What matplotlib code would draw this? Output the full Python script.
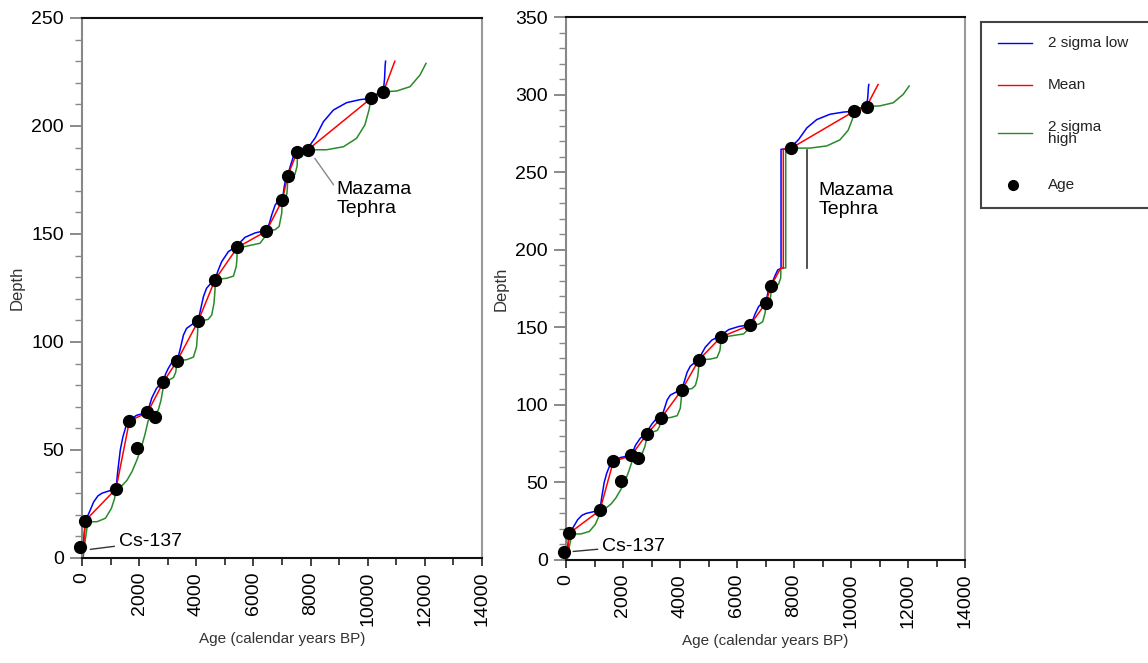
import matplotlib
matplotlib.use("Agg")
import matplotlib.pyplot as plt
from matplotlib.ticker import MultipleLocator

plt.rcParams['font.family'] = ['Liberation Sans', 'DejaVu Sans']

# ---- dated levels (age, depth) ----
# below the Mazama tephra
age_below = [-60, 117, 1190, 1640, 1940, 2280, 2540, 2850, 3330, 4060, 4660,
             5440, 6450, 7010, 7195, 7525]
depth_below = [5.2, 17.3, 32.0, 63.5, 51.0, 67.5, 65.5, 81.5, 91.3, 109.5,
               128.9, 143.8, 151.3, 165.6, 176.8, 187.8]
# from the tephra upwards
age_above = [7895, 10115, 10545]
depth_above = [188.9, 212.8, 215.8]

# ---- age model curves ----
mean_age_below = [0, 60, 117, 1190, 1660, 2290, 2850, 3330, 4060, 4660, 5440,
                  6450, 7010, 7195, 7525]
mean_depth_below = [0, 6, 17.3, 32, 63.5, 67.3, 81.5, 91.3, 109.5, 128.9,
                    143.8, 151.3, 165.6, 176.8, 187.8]
mean_age_above = [7895, 10115, 10545, 10950]
mean_depth_above = [188.9, 212.8, 215.8, 230]

low_age_below = [10, 40, 117, 250, 410, 560, 700, 1050, 1190, 1250, 1340, 1430,
                 1560, 1660, 1900, 2100, 2290, 2440, 2610, 2790, 2850, 2920,
                 3020, 3140, 3330, 3430, 3550, 3660, 3900, 4060, 4150, 4250,
                 4360, 4540, 4660, 4760, 4890, 5120, 5300, 5440, 5560, 5710,
                 6060, 6290, 6450, 6560, 6640, 6760, 6870, 7010, 7080, 7140,
                 7195, 7260, 7340, 7430, 7525]
low_depth_below = [0, 6, 17.3, 21, 26, 28.8, 30, 31.5, 32, 40, 50, 56,
                   62, 63.5, 66, 66.8, 67.3, 74, 78.6, 80.9, 81.5, 85,
                   87.8, 90.4, 91.3, 96.3, 103.2, 106.3, 108.6, 109.5, 115, 121,
                   124.9, 127.6, 128.9, 133, 137.2, 141.8, 143.4, 143.8, 146.5, 148.5,
                   150.5, 151.2, 151.3, 155, 158.8, 163.4, 165.3, 165.6, 172, 176,
                   176.8, 180, 183.5, 187, 187.8]
low_age_above = [7895, 8000, 8160, 8450, 8800, 9260, 9730, 10115, 10310, 10545,
                 10590, 10610, 10625]
low_depth_above = [188.9, 191.5, 194.5, 202, 207.4, 210.8, 212.2, 212.8, 214.8,
                   215.8, 222, 228, 230]

high_age_below = [40, 100, 175, 233, 525, 820, 1030, 1140, 1190, 1400, 1575,
                  1750, 1925, 2060, 2200, 2322, 2500, 2670, 2765, 2847, 2850,
                  2950, 3020, 3200, 3280, 3330, 3450, 3660, 3900, 4010, 4045,
                  4060, 4250, 4420, 4540, 4620, 4655, 4660, 4850, 5060, 5300,
                  5400, 5420, 5440, 5700, 5940, 6230, 6400, 6450, 6600, 6760,
                  6900, 6990, 7010, 7100, 7170, 7190, 7195, 7300, 7450, 7530,
                  7540, 7525]
high_depth_below = [0, 7, 14, 16.8, 16.8, 18.4, 23, 27.6, 32, 33.5, 36,
                    40, 45.5, 50.5, 57, 63.9, 65.5, 68.5, 73, 79.3, 81.5,
                    82, 82.3, 83.5, 86, 91.3, 91.5, 91.8, 93, 97.8, 104,
                    109.5, 110, 110.5, 112.5, 118, 124, 128.9, 129.2, 129.5, 130.5,
                    135, 138, 143.8, 144.2, 144.9, 145.7, 148.7, 151.3, 151.6, 152,
                    153.5, 159.6, 165.6, 166.2, 168.5, 172, 176.8, 177, 177.5, 181.5,
                    186, 187.8]
high_age_above = [7895, 8250, 8560, 9150, 9610, 9900, 10045, 10115, 10300,
                  10545, 11010, 11480, 11830, 12040]
high_depth_above = [188.9, 189, 189, 190.4, 194.3, 200.5, 207.4, 212.8, 214.5,
                    215.8, 216.2, 218.2, 223.6, 229]

# right panel: tephra thickness added above the Mazama level
tephra_thickness = 76.5
jump_age = {'low': 7545, 'mean': 7625, 'high': 7710}

BLUE = '#0000ff'
RED = '#ff0000'
GREEN = '#2a8a2a'


def style_axes(ax, ymax):
    ax.set_xlim(0, 14000)
    ax.set_ylim(0, ymax)
    ax.xaxis.set_major_locator(MultipleLocator(2000))
    ax.xaxis.set_minor_locator(MultipleLocator(1000))
    ax.yaxis.set_major_locator(MultipleLocator(50))
    ax.yaxis.set_minor_locator(MultipleLocator(10))
    ax.tick_params(axis='x', which='major', length=6, width=1.2, color='#222',
                   labelsize=14, labelrotation=90, pad=4)
    ax.tick_params(axis='x', which='minor', length=5, width=1.2, color='#222')
    ax.tick_params(axis='y', which='major', length=9, width=1.2, color='#777',
                   labelsize=14, pad=4)
    ax.tick_params(axis='y', which='minor', length=5, width=1, color='#888')
    for side, col in [('top', '#111'), ('bottom', '#111'), ('left', '#888'), ('right', '#999')]:
        ax.spines[side].set_color(col)
        ax.spines[side].set_linewidth(1.5)
    ax.set_xlabel('Age (calendar years BP)', fontsize=11, color='#333', labelpad=4)
    ax.set_ylabel('Depth', fontsize=12, color='#333', labelpad=5)


fig = plt.figure(figsize=(11.48, 6.63), dpi=100)
ax1 = fig.add_axes([82 / 1148, 1 - 558 / 663, 400 / 1148, 540 / 663])
ax2 = fig.add_axes([566 / 1148, 1 - 560 / 663, 399 / 1148, 543 / 663])

# ---- left panel ----
ax1.plot(low_age_below + low_age_above, low_depth_below + low_depth_above, color=BLUE, lw=1.1)
ax1.plot(high_age_below + high_age_above, high_depth_below + high_depth_above, color=GREEN, lw=1.1)
ax1.plot(mean_age_below + mean_age_above, mean_depth_below + mean_depth_above, color=RED, lw=1.1)
ax1.plot(age_below + age_above, depth_below + depth_above, 'o', color='black',
         ms=8.5, clip_on=False, zorder=5)
style_axes(ax1, 250)

ax1.annotate('Cs-137', xy=(290, 4), xytext=(1280, 7.5), fontsize=14, va='center',
             arrowprops=dict(arrowstyle='-', color='#333', lw=1, shrinkA=1, shrinkB=0))
ax1.annotate('Mazama\nTephra', xy=(8150, 185), xytext=(8900, 166), fontsize=14,
             va='center', ha='left', linespacing=1.15,
             arrowprops=dict(arrowstyle='-', color='#888', lw=1, shrinkA=0, shrinkB=0,
                             relpos=(0, 0.8)))

# ---- right panel (tephra included) ----
def with_tephra(a_below, d_below, a_above, d_above, jump):
    ages = a_below + [jump, jump] + a_above
    depths = d_below + [188.3, 188.9 + tephra_thickness - 0.7] + [d + tephra_thickness for d in d_above]
    return ages, depths


la, ld = with_tephra(low_age_below, low_depth_below, low_age_above, low_depth_above, jump_age['low'])
ha_, hd = with_tephra(high_age_below, high_depth_below, high_age_above, high_depth_above, jump_age['high'])
ma, md = with_tephra(mean_age_below, mean_depth_below, mean_age_above, mean_depth_above, jump_age['mean'])
ax2.plot(la, ld, color=BLUE, lw=1.1)
ax2.plot(ha_, hd, color=GREEN, lw=1.1)
ax2.plot(ma, md, color=RED, lw=1.1)
# the level just below the tephra is not dated in this panel
ax2.plot(age_below[:-1] + age_above,
         depth_below[:-1] + [d + tephra_thickness for d in depth_above],
         'o', color='black', ms=8.5, clip_on=False, zorder=5)
style_axes(ax2, 350)

ax2.annotate('Cs-137', xy=(250, 5.5), xytext=(1260, 9), fontsize=14, va='center',
             arrowprops=dict(arrowstyle='-', color='#333', lw=1, shrinkA=1, shrinkB=0))
ax2.plot([8440, 8440], [188, 264], color='#333', lw=1.2)
ax2.text(8850, 232, 'Mazama\nTephra', fontsize=14, va='center', ha='left', linespacing=1.15)

# ---- legend box ----
axl = fig.add_axes([981 / 1148, 1 - 208 / 663, 0.3, 186 / 663])
axl.set_xlim(981, 981 + 0.3 * 1148)
axl.set_ylim(208, 22)
axl.set_xticks([])
axl.set_yticks([])
for s in axl.spines.values():
    s.set_color('#444')
    s.set_linewidth(1.5)
entries = [('2 sigma low', BLUE, 43), ('Mean', RED, 85), ('2 sigma\nhigh', GREEN, 133)]
for label, col, y in entries:
    axl.plot([998, 1032], [y, y], color=col, lw=1)
    axl.text(1048, y, label, fontsize=11, va='center', ha='left', color='#222', linespacing=0.8)
axl.plot([1013], [185], 'o', color='black', ms=7)
axl.text(1048, 185, 'Age', fontsize=11, va='center', ha='left', color='#222')

fig.savefig('out.png', dpi=100)
